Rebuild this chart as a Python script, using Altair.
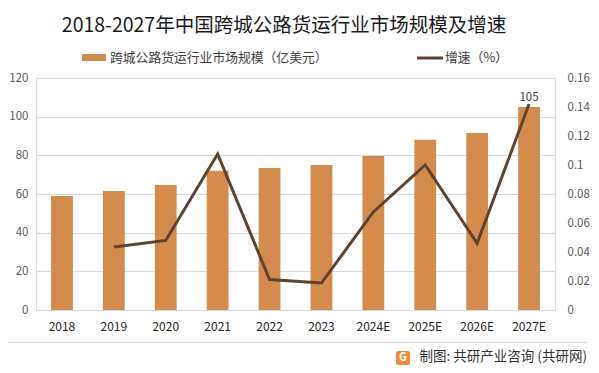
import altair as alt
import pandas as pd

years = ["2018", "2019", "2020", "2021", "2022", "2023", "2024E", "2025E", "2026E", "2027E"]
market = [59, 61.5, 64.7, 72, 73.5, 75, 79.7, 88, 91.5, 105]
growth = [None, 0.0434, 0.048, 0.1076, 0.021, 0.0186, 0.0676, 0.1, 0.046, 0.142]

FONT = "Noto Sans CJK SC"
BAR_C = "#D38B4E"
LINE_C = "#5E4330"

df = pd.DataFrame({"year": years, "market": market, "growth": growth})

x = alt.X("year:N", sort=years, title=None,
          scale=alt.Scale(paddingInner=0.58, paddingOuter=0.29),
          axis=alt.Axis(labelAngle=0, labelFontSize=12, labelColor="#262626", labelFont=FONT,
                        ticks=False, domainColor="#D9D9D9", labelPadding=11))

base = alt.Chart(df)

bars = base.mark_bar(color=BAR_C).encode(
    x=x,
    y=alt.Y("market:Q", title=None, scale=alt.Scale(domain=[0, 120]),
            axis=alt.Axis(orient="left", values=[0, 20, 40, 60, 80, 100, 120], domain=False, ticks=False,
                          labelFontSize=11.5, labelColor="#595959", labelFont=FONT, labelPadding=8,
                          gridColor="#D9D9D9", grid=True)),
)

label = base.transform_filter(alt.datum.year == "2027E").mark_text(
    dy=-9, fontSize=11.5, color="#404040", font=FONT).encode(
    x=x,
    y=alt.Y("market:Q", scale=alt.Scale(domain=[0, 120]), axis=None),
    text=alt.Text("market:Q", format="d"),
)

line = base.transform_filter("datum.growth != null").mark_line(color=LINE_C, strokeWidth=3).encode(
    x=x,
    y=alt.Y("growth:Q", title=None, scale=alt.Scale(domain=[0, 0.16]),
            axis=alt.Axis(orient="right", values=[0, 0.02, 0.04, 0.06, 0.08, 0.1, 0.12, 0.14, 0.16],
                          labelExpr="format(datum.value, '.2~f')", domain=False, ticks=False, grid=False,
                          labelFontSize=11.5, labelColor="#595959", labelFont=FONT, labelPadding=12)),
)

one = pd.DataFrame({"k": [0]})
title_t = alt.Chart(one).mark_text(text="2018-2027年中国跨城公路货运行业市场规模及增速", fontSize=19.5,
                                   font=FONT, color="#1a1a1a", align="center", baseline="middle").encode(
    x=alt.value(248), y=alt.value(-52))
leg1_sym = alt.Chart(one).mark_rect(color=BAR_C).encode(
    x=alt.value(46), x2=alt.value(70), y=alt.value(-24), y2=alt.value(-17))
leg1_t = alt.Chart(one).mark_text(text="跨城公路货运行业市场规模（亿美元）", fontSize=12.8, font=FONT,
                                  color="#404040", align="left", baseline="middle").encode(
    x=alt.value(74), y=alt.value(-20))
leg2_sym = alt.Chart(one).mark_rule(color=LINE_C, strokeWidth=3).encode(
    x=alt.value(381), x2=alt.value(407), y=alt.value(-20))
leg2_t = alt.Chart(one).mark_text(text="增速（%）", fontSize=12.8, font=FONT,
                                  color="#404040", align="left", baseline="middle").encode(
    x=alt.value(409), y=alt.value(-20))
sep = alt.Chart(one).mark_rect(color="#D4D4D4").encode(
    x=alt.value(-30), x2=alt.value(551), y=alt.value(264), y2=alt.value(265))
icon = alt.Chart(one).mark_rect(color="#F08A3C", cornerRadius=2).encode(
    x=alt.value(360), x2=alt.value(374), y=alt.value(273), y2=alt.value(287))
icon_t = alt.Chart(one).mark_text(text="G", fontSize=11, font=FONT, fontWeight="bold", color="white",
                                  align="center", baseline="middle").encode(
    x=alt.value(367), y=alt.value(280))
src = alt.Chart(one).mark_text(text="制图: 共研产业咨询 (共研网)", fontSize=13.5, font=FONT,
                               color="#333333", align="right", baseline="middle").encode(
    x=alt.value(551), y=alt.value(279))

main = alt.layer(bars, line, label).resolve_scale(y="independent")
chart = alt.layer(main, title_t, leg1_sym, leg1_t, leg2_sym, leg2_t, sep, icon, icon_t, src).properties(
    width=519, height=232,
    padding={"left": 28, "top": 70, "right": 36, "bottom": 60},
    autosize=alt.AutoSizeParams(type="none"),
).configure_view(stroke=None).configure(background="white")

chart.save("out.html", embed_options={"renderer": "svg", "actions": False})
